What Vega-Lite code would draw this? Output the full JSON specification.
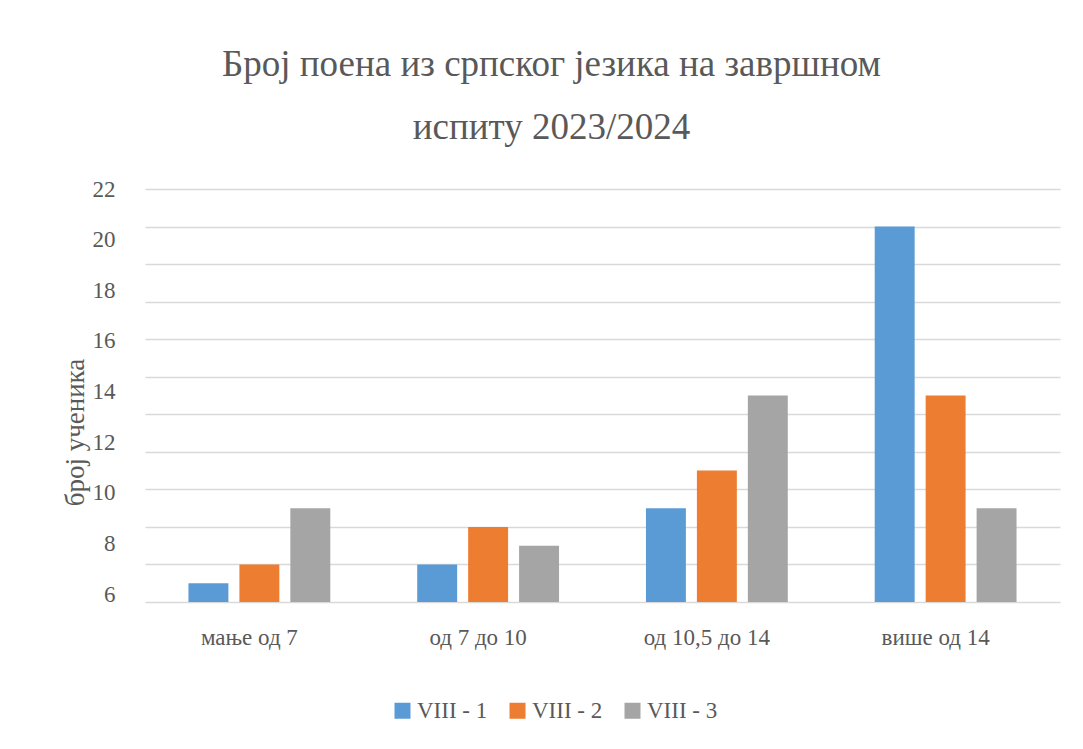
{
  "$schema": "https://vega.github.io/schema/vega-lite/v6.json",
  "width": 915,
  "height": 413,
  "autosize": {"type": "none"},
  "padding": {"left": 145, "top": 189, "right": 23, "bottom": 147},
  "background": "white",
  "config": {"font": "Liberation Serif", "view": {"stroke": null}},
  "title": {
    "text": ["Број поена из српског језика на завршном", "испиту 2023/2024"],
    "fontSize": 37,
    "fontWeight": "normal",
    "font": "Liberation Serif",
    "color": "#595959",
    "lineHeight": 63,
    "dx": -51,
    "offset": 31,
    "anchor": "middle"
  },
  "data": {
    "values": [
      {"category": "мање од 7", "class": "VIII - 1", "value": 1},
      {"category": "мање од 7", "class": "VIII - 2", "value": 2},
      {"category": "мање од 7", "class": "VIII - 3", "value": 5},
      {"category": "од 7 до 10", "class": "VIII - 1", "value": 2},
      {"category": "од 7 до 10", "class": "VIII - 2", "value": 4},
      {"category": "од 7 до 10", "class": "VIII - 3", "value": 3},
      {"category": "од 10,5 до 14", "class": "VIII - 1", "value": 5},
      {"category": "од 10,5 до 14", "class": "VIII - 2", "value": 7},
      {"category": "од 10,5 до 14", "class": "VIII - 3", "value": 11},
      {"category": "више од 14", "class": "VIII - 1", "value": 20},
      {"category": "више од 14", "class": "VIII - 2", "value": 11},
      {"category": "више од 14", "class": "VIII - 3", "value": 5}
    ]
  },
  "layer": [
    {
      "mark": {"type": "bar"},
      "encoding": {
        "x": {
          "field": "category",
          "type": "nominal",
          "sort": ["мање од 7", "од 7 до 10", "од 10,5 до 14", "више од 14"],
          "scale": {"paddingInner": 0.38, "paddingOuter": 0.19},
          "axis": {
            "title": null,
            "labelAngle": 0,
            "labelFont": "Liberation Serif",
            "labelFontSize": 23,
            "labelColor": "#595959",
            "labelPadding": 24,
            "labelOffset": -10,
            "ticks": false,
            "tickSize": 0,
            "domain": false,
            "grid": false
          }
        },
        "xOffset": {
          "field": "class",
          "sort": ["VIII - 1", "VIII - 2", "VIII - 3"],
          "scale": {"paddingInner": 0.216, "paddingOuter": 0}
        },
        "y": {
          "field": "value",
          "type": "quantitative",
          "scale": {"domain": [0, 22], "nice": false},
          "axis": {
            "values": [0, 2, 4, 6, 8, 10, 12, 14, 16, 18, 20, 22],
            "labels": false,
            "ticks": false,
            "tickSize": 0,
            "domain": false,
            "title": null,
            "grid": true,
            "gridColor": "#d9d9d9",
            "gridWidth": 1.3
          }
        },
        "color": {
          "field": "class",
          "type": "nominal",
          "scale": {"domain": ["VIII - 1", "VIII - 2", "VIII - 3"], "range": ["#5B9BD5", "#ED7D31", "#A5A5A5"]},
          "legend": {
            "orient": "none",
            "legendX": 246,
            "legendY": 510,
            "direction": "horizontal",
            "title": null,
            "symbolType": "square",
            "symbolSize": 256,
            "symbolStrokeWidth": 0,
            "labelFont": "Liberation Serif",
            "labelFontSize": 23,
            "labelColor": "#595959",
            "labelOffset": 3,
            "columnPadding": 18
          }
        }
      }
    },
    {
      "mark": {"type": "point", "opacity": 0},
      "encoding": {
        "y": {
          "field": "value",
          "type": "quantitative",
          "scale": {"domain": [5.685, 22], "nice": false, "zero": false},
          "axis": {
            "orient": "left",
            "values": [6, 8, 10, 12, 14, 16, 18, 20, 22],
            "grid": false,
            "ticks": false,
            "tickSize": 0,
            "domain": false,
            "labelFont": "Liberation Serif",
            "labelFontSize": 23,
            "labelColor": "#595959",
            "labelPadding": 30,
            "title": "број ученика",
            "titleFont": "Liberation Serif",
            "titleFontSize": 27,
            "titleFontWeight": "normal",
            "titleColor": "#595959",
            "titleX": -70,
            "titleY": 243,
            "titleBaseline": "middle"
          }
        }
      }
    }
  ],
  "resolve": {"scale": {"y": "independent"}}
}
